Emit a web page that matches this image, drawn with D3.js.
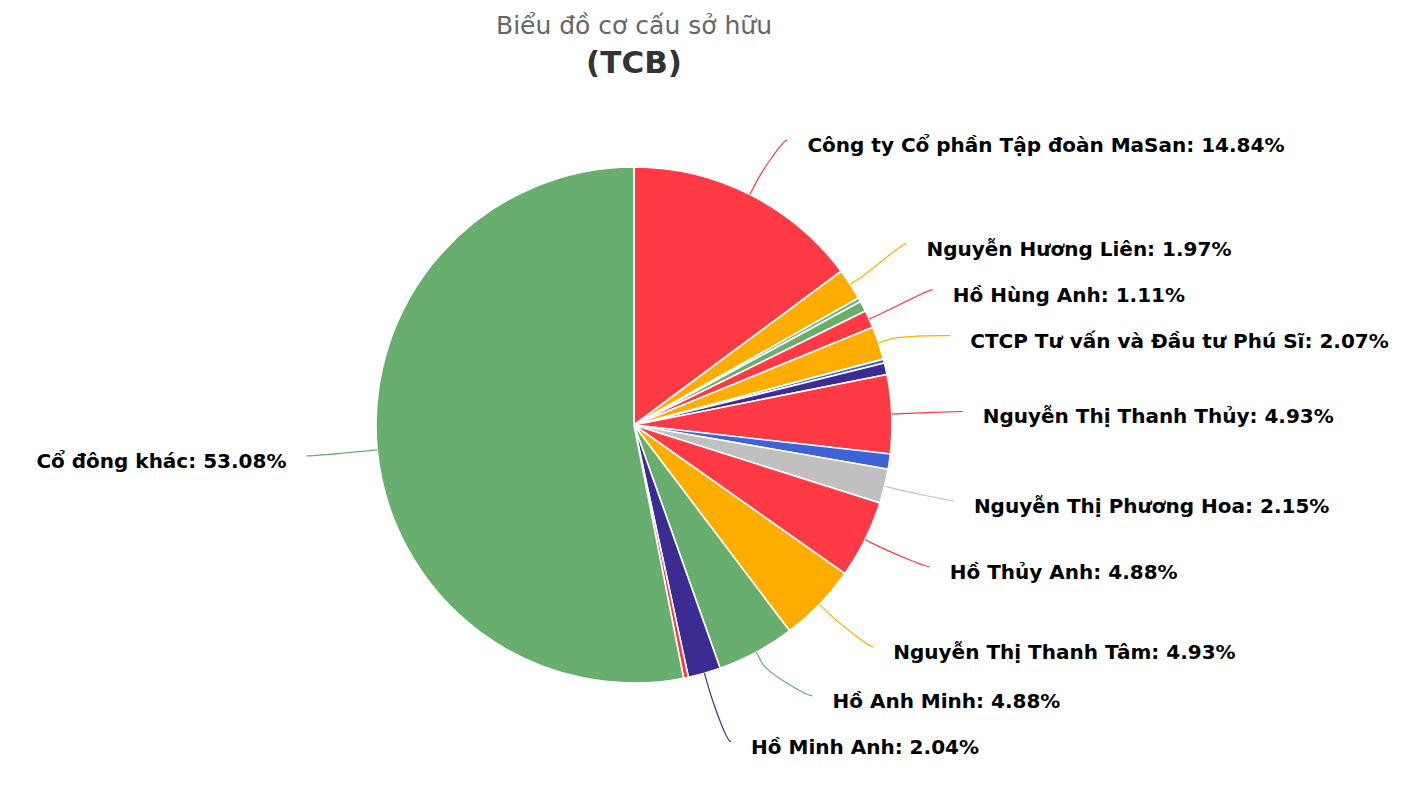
<!DOCTYPE html>
<html>
<head>
<meta charset="utf-8">
<script src="https://cdn.jsdelivr.net/npm/d3@7"></script>
<style>
  body { margin: 0; background: #fff; }
  svg text { font-family: "DejaVu Sans", "Noto Sans", sans-serif; }
</style>
</head>
<body>
<svg id="chart"></svg>
<script>
// data (clockwise from 12 o'clock), null name = slice without a label
const names = [
  "Công ty Cổ phần Tập đoàn MaSan", "Nguyễn Hương Liên", null, null,
  "Hồ Hùng Anh", "CTCP Tư vấn và Đầu tư Phú Sĩ", null, null,
  "Nguyễn Thị Thanh Thủy", null, "Nguyễn Thị Phương Hoa", "Hồ Thủy Anh",
  "Nguyễn Thị Thanh Tâm", "Hồ Anh Minh", "Hồ Minh Anh", null, "Cổ đông khác"
];
const values = [
  14.84, 1.97, 0.25, 0.65,
  1.11, 2.07, 0.25, 0.72,
  4.93, 0.95, 2.15, 4.88,
  4.93, 4.88, 2.04, 0.30, 53.08
];
const colorKeys = [
  "red", "orange", "green", "green",
  "red", "orange", "blue", "navy",
  "red", "blue", "gray", "red",
  "orange", "green", "navy", "red", "green"
];
const palette = {
  red: "#ff3a45", orange: "#ffae00", green: "#67ae6f",
  navy: "#3a2c91", blue: "#3e63d8", gray: "#c0c0c0"
};
const title = "Biểu đồ cơ cấu sở hữu";
const subtitle = "(TCB)";

// constants
const width = 1422;
const height = 794;
const cx = 634, cy = 425, radius = 258;
const labelDistance = 61;
const R = radius + labelDistance;
const boxH = 46;

const svg = d3.select('svg#chart').attr('width', width).attr('height', height);

// titles
svg.append('text')
  .attr('x', cx).attr('y', 25)
  .attr('text-anchor', 'middle').attr('dominant-baseline', 'central')
  .style('font-size', '25px').style('fill', '#666')
  .text(title);
svg.append('text')
  .attr('x', cx).attr('y', 62)
  .attr('text-anchor', 'middle').attr('dominant-baseline', 'central')
  .style('font-size', '31px').style('font-weight', 'bold').style('fill', '#333')
  .text(subtitle);

const data = values.map((v, i) => ({ name: names[i], value: v, color: palette[colorKeys[i]] }));

const pie = d3.pie().value(d => d.value).sort(null);
const arcs = pie(data);
const arc = d3.arc().innerRadius(0).outerRadius(radius);

const g = svg.append('g').attr('transform', 'translate(' + cx + ',' + cy + ')');
g.selectAll('path')
  .data(arcs)
  .enter().append('path')
  .attr('d', arc)
  .attr('fill', d => d.data.color)
  .attr('stroke', '#fff')
  .attr('stroke-width', 1.6)
  .attr('stroke-linejoin', 'round');

// label layout, roughly like highcharts: natural spot on an outer circle, then push apart
const labelled = arcs.filter(d => d.data.name).map(d => {
  const mid = (d.startAngle + d.endAngle) / 2;
  return {
    arc: d,
    mid: mid,
    right: mid < Math.PI,
    target: cy - R * Math.cos(mid)
  };
});

function distribute(items, lo, hi) {
  items.sort((a, b) => a.target - b.target);
  let groups = items.map(d => ({ items: [d], pos: d.target - boxH / 2 }));
  let found = true;
  while (found) {
    groups.forEach(gr => {
      const size = gr.items.length * boxH;
      gr.pos = Math.max(lo, Math.min(hi - size, gr.pos));
    });
    found = false;
    for (let i = 0; i < groups.length - 1; i++) {
      const a = groups[i], b = groups[i + 1];
      if (a.pos + a.items.length * boxH > b.pos) {
        const its = a.items.concat(b.items);
        const mean = d3.mean(its, d => d.target);
        groups.splice(i, 2, { items: its, pos: mean - its.length * boxH / 2 });
        found = true;
        break;
      }
    }
  }
  groups.forEach(gr => gr.items.forEach((d, k) => { d.pos = gr.pos + k * boxH + boxH / 2; }));
}

distribute(labelled.filter(d => d.right), 40, 790);
distribute(labelled.filter(d => !d.right), 40, 790);

function getX(y, right) {
  const dy = Math.max(-R, Math.min(R, y - cy));
  return cx + (right ? 1 : -1) * Math.sqrt(R * R - dy * dy);
}

labelled.forEach(d => {
  // labels pushed to the bottom edge keep the x of their natural spot
  const yForX = Math.abs(d.pos - cy) > R - 5 ? d.target : d.pos;
  const x = getX(yForX, d.right);
  const s = d.right ? 1 : -1;
  const touching = [cx + radius * Math.sin(d.mid), cy - radius * Math.cos(d.mid)];
  const breakAt = [cx + (radius + labelDistance / 5) * Math.sin(d.mid), cy - (radius + labelDistance / 5) * Math.cos(d.mid)];
  const start = [x + s * 10, d.pos];
  const path = d3.path();
  path.moveTo(start[0], start[1]);
  path.bezierCurveTo(start[0] - s * 5, start[1],
    2 * breakAt[0] - touching[0], 2 * breakAt[1] - touching[1],
    breakAt[0], breakAt[1]);
  path.lineTo(touching[0], touching[1]);

  svg.append('path')
    .attr('d', path.toString())
    .attr('fill', 'none')
    .attr('stroke', d.arc.data.color)
    .attr('stroke-width', 1.2);

  svg.append('text')
    .attr('x', x + s * 30)
    .attr('y', d.pos + 5)
    .attr('text-anchor', d.right ? 'start' : 'end')
    .attr('dominant-baseline', 'central')
    .style('font-size', '20px')
    .style('font-weight', 'bold')
    .style('fill', '#000')
    .text(d.arc.data.name + ': ' + d.arc.data.value.toFixed(2) + '%');
});
</script>
</body>
</html>
